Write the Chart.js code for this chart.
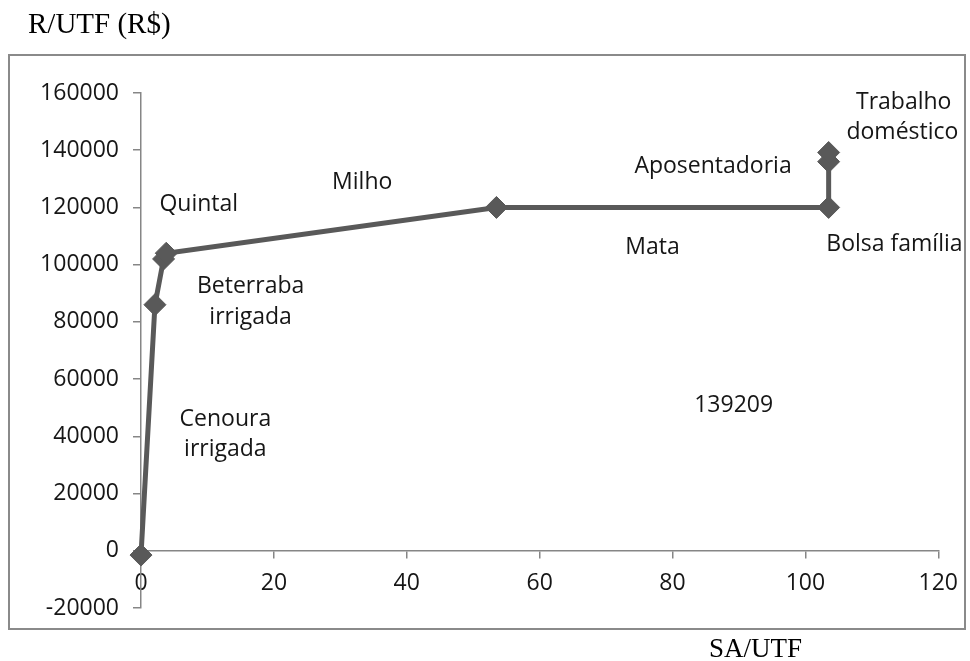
<!DOCTYPE html>
<html><head><meta charset="utf-8">
<script src="https://cdn.jsdelivr.net/npm/chart.js@4/dist/chart.umd.min.js"></script>
<style>html,body{margin:0;padding:0;background:#fff;}</style>
</head><body>
<canvas id="c" width="970" height="661"></canvas>
<script>
// ---- data ----
const xValues = [0, 2.1, 3.4, 3.8, 53.5, 103.5, 103.5, 103.5];
const yValues = [-1500, 86000, 102000, 104000, 120000, 120000, 136000, 139209];
const xTicks = [0, 20, 40, 60, 80, 100, 120];
const yTicks = [-20000, 0, 20000, 40000, 60000, 80000, 100000, 120000, 140000, 160000];
const labelTexts = ["Quintal", "Milho", "Beterraba", "irrigada", "Cenoura", "irrigada", "Mata", "Aposentadoria", "Trabalho", "doméstico", "Bolsa família", "139209"];
const labelX = [8.7, 33.3, 16.5, 16.5, 12.7, 12.7, 77.0, 86.1, 114.8, 114.6, 113.4, 89.2];
const labelY = [121000, 128600, 92500, 81500, 46000, 35500, 106000, 134500, 156600, 146100, 107000, 50900];
const yTitle = "R/UTF (R$)";
const xTitle = "SA/UTF";

const points = xValues.map((x, i) => ({x: x, y: yValues[i]}));
const axisColor = '#868686';
const textColor = '#161616';
const sansFont = "'Open Sans', 'Noto Sans', sans-serif";

const decor = {
  id: 'decor',
  beforeDraw(chart) {
    const ctx = chart.ctx;
    ctx.save();
    ctx.strokeStyle = '#8a8a8a';
    ctx.lineWidth = 2;
    ctx.strokeRect(9, 55, 956, 574);
    ctx.restore();
  },
  afterDraw(chart) {
    const ctx = chart.ctx;
    const sx = chart.scales.x, sy = chart.scales.y;
    ctx.save();
    ctx.fillStyle = textColor;
    ctx.font = "23px " + sansFont;
    ctx.textAlign = 'center';
    ctx.textBaseline = 'middle';
    labelTexts.forEach((t, i) => {
      ctx.fillText(t, sx.getPixelForValue(labelX[i]), sy.getPixelForValue(labelY[i]));
    });
    ctx.fillStyle = '#000';
    ctx.textAlign = 'left';
    ctx.textBaseline = 'alphabetic';
    ctx.font = "29px 'Liberation Serif', 'Times New Roman', serif";
    ctx.fillText(yTitle, 28, 33);
    ctx.font = "27px 'Liberation Serif', 'Times New Roman', serif";
    ctx.fillText(xTitle, 709, 657);
    ctx.restore();
  }
};

new Chart(document.getElementById('c'), {
  type: 'scatter',
  data: {
    datasets: [{
      data: points,
      showLine: true,
      borderColor: '#595959',
      borderWidth: 5,
      backgroundColor: '#595959',
      pointStyle: 'rectRot',
      pointRadius: 11,
      pointBackgroundColor: '#595959',
      pointBorderColor: '#595959',
      pointBorderWidth: 1,
      tension: 0,
      clip: false
    }]
  },
  options: {
    responsive: false,
    animation: false,
    layout: {padding: {left: 0, right: 30, top: 93, bottom: 53}},
    plugins: {legend: {display: false}, tooltip: {enabled: false}, title: {display: false}},
    scales: {
      x: {
        type: 'linear',
        position: {y: 0},
        min: 0, max: 120,
        afterBuildTicks: s => { s.ticks = xTicks.map(v => ({value: v})); },
        afterFit: s => { s.height = 0; },
        grid: {drawOnChartArea: false, drawTicks: true, tickLength: 7, color: axisColor, lineWidth: 1.5},
        border: {display: true, color: axisColor, width: 1.5},
        ticks: {font: {family: sansFont, size: 23}, color: textColor, padding: 12, maxRotation: 0, autoSkip: false}
      },
      y: {
        type: 'linear',
        position: 'left',
        min: -20000, max: 160000,
        afterBuildTicks: s => { s.ticks = yTicks.map(v => ({value: v})); },
        afterFit: s => { s.width = 141; },
        grid: {drawOnChartArea: false, drawTicks: true, tickLength: 8, color: axisColor, lineWidth: 1.5},
        border: {display: true, color: axisColor, width: 1.5},
        ticks: {font: {family: sansFont, size: 23}, color: textColor, padding: 14, autoSkip: false,
                callback: v => String(v)}
      }
    }
  },
  plugins: [decor]
});
</script>
</body></html>
